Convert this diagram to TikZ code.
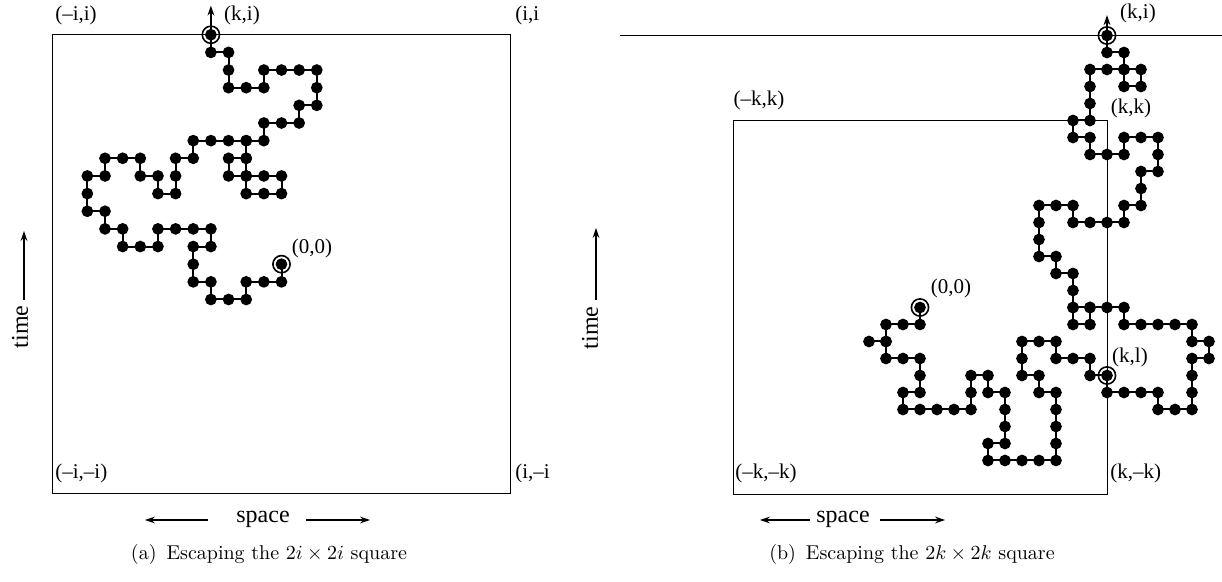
\documentclass[tikz,border=0pt]{standalone}
\usepackage{fontspec}
\newfontfamily\lblfont{Liberation Serif}
\usetikzlibrary{arrows.meta}

\begin{document}
\begin{tikzpicture}[x=0.5pt, y=-0.5pt,
  walk/.style={line width=1pt, mark=*, mark size=2.4pt, mark options={fill=black}},
  ring/.style={circle, draw, line width=0.8pt, minimum size=8.6pt, inner sep=0pt},
  lbl/.style={font=\lblfont\fontsize{10.5}{11}\selectfont, inner sep=0pt},
  axislbl/.style={font=\lblfont\fontsize{12}{13}\selectfont, inner sep=0pt},
  capt/.style={font=\fontsize{10}{12}\selectfont, inner sep=0pt},
  seta/.style={-{Stealth[length=5pt, width=3.4pt]}, line width=0.6pt},
  box/.style={line width=0.5pt}
]
  \useasboundingbox (0,0) rectangle (1222,582);

  % (a) the 2i x 2i square
  \begin{scope}[shift={(281.5,264.2)}, x=8.825pt, y=8.825pt]
    \draw[box] (-13,-13) rectangle (13,13);
    \draw[walk] plot coordinates {(0,0) (0,-1) (-1,-1) (-2,-1) (-2,-2) (-3,-2) (-4,-2) (-4,-1)
      (-5,-1) (-5,0) (-5,1) (-4,1) (-4,2) (-5,2) (-6,2) (-7,2) (-7,1) (-8,1) (-9,1) (-9,2)
      (-10,2) (-10,3) (-11,3) (-11,4) (-11,5) (-10,5) (-10,6) (-9,6) (-8,6) (-8,5) (-7,5)
      (-7,4) (-6,4) (-6,5) (-6,6) (-5,6) (-5,7) (-4,7) (-3,7) (-2,7) (-2,6) (-3,6) (-3,5)
      (-2,5) (-1,5) (0,5) (0,4) (-1,4) (-2,4) (-2,5) (-2,6) (-2,7) (-1,7) (-1,8) (0,8) (1,8)
      (1,9) (2,9) (2,10) (2,11) (1,11) (0,11) (-1,11) (-1,10) (-2,10) (-3,10) (-3,11)
      (-3,12) (-4,12) (-4,13)};
    \node[ring] (oa) at (0,0) {};
    \node[ring] (ea) at (-4,13) {};
    \coordinate (ta) at (-4,14.65);
    \draw[seta] (ea.center) -- (ta);
  \end{scope}

  \node[lbl] (nwa) at (76,15) {(–i,i)};
  \node[lbl] (kia) at (242,15) {(k,i)};
  \node[lbl, anchor=west] (nea) at (515,15) {(i,i};
  \node[lbl, anchor=west] (swa) at (55,473) {(–i,–i)};
  \node[lbl, anchor=west] (sea) at (515,473) {(i,–i};
  \node[lbl] (za) at (312,248) {(0,0)};

  \node[axislbl, rotate=90] (timea) at (20,327) {time};
  \coordinate (tma1) at (24,300);
  \coordinate (tma2) at (24,231);
  \draw[seta] (tma1) -- (tma2);
  \node[axislbl] (spacea) at (263,519) {space};
  \coordinate (spa1) at (208,520);
  \coordinate (spa2) at (145,520);
  \coordinate (spa3) at (306,520);
  \coordinate (spa4) at (370,520);
  \draw[seta] (spa1) -- (spa2);
  \draw[seta] (spa3) -- (spa4);
  \node[capt] (capa) at (269,555) {(a)\enspace Escaping the $2i \times 2i$ square};

  % (b) the 2k x 2k square
  \begin{scope}[shift={(920,307.5)}, x=8.5pt, y=8.5pt]
    \coordinate (lnw) at (-17.65,16);
    \coordinate (lne) at (17.77,16);
    \draw[box] (lnw) -- (lne);
    \draw[box] (-11,-11) rectangle (11,11);
    \draw[walk] plot coordinates {(0,0) (0,-1) (-1,-1) (-2,-1) (-2,-2) (-3,-2) (-2,-2) (-2,-3)
      (-1,-3) (0,-3) (0,-4) (0,-5) (-1,-5) (-1,-6) (0,-6) (1,-6) (2,-6) (3,-6) (3,-5) (3,-4)
      (4,-4) (4,-5) (5,-5) (5,-6) (5,-7) (5,-8) (4,-8) (4,-9) (5,-9) (6,-9) (7,-9) (8,-9)
      (8,-8) (8,-7) (8,-6) (8,-5) (7,-5) (7,-4) (6,-4) (6,-3) (6,-2) (7,-2) (8,-2) (8,-3)
      (9,-3) (10,-3) (10,-4) (11,-4) (11,-5) (12,-5) (13,-5) (14,-5) (14,-6) (15,-6) (16,-6)
      (16,-5) (16,-4) (16,-3) (17,-3) (17,-2) (16,-2) (16,-1) (15,-1) (14,-1) (13,-1) (12,-1)
      (12,0) (11,0) (10,0) (10,-1) (9,-1) (9,0) (10,0) (9,0) (9,1) (9,2) (8,2) (8,3) (7,3)
      (7,4) (7,5) (7,6) (8,6) (9,6) (9,5) (10,5) (11,5) (12,5) (12,6) (13,6) (13,7) (13,8)
      (14,8) (14,9) (14,10) (13,10) (12,10) (12,9) (11,9) (10,9) (10,10) (9,10) (9,11)
      (10,11) (10,12) (10,13) (10,14) (11,14) (12,14) (13,14) (13,13) (12,13) (12,14)
      (12,15) (11,15) (11,16)};
    \node[ring] (ob) at (0,0) {};
    \node[ring] (lb) at (11,-4) {};
    \node[ring] (eb) at (11,16) {};
    \coordinate (tb) at (11,17.2);
    \draw[seta] (eb.center) -- (tb);
  \end{scope}

  \node[lbl] (kib) at (1138,13) {(k,i)};
  \node[lbl] (nwb) at (759,100) {(–k,k)};
  \node[lbl] (neb) at (1131,108) {(k,k)};
  \node[lbl] (zb) at (951,288) {(0,0)};
  \node[lbl] (klb) at (1130,357) {(k,l)};
  \node[lbl, anchor=west] (swb) at (735,473) {(–k,–k)};
  \node[lbl, anchor=west] (seb) at (1110,473) {(k,–k)};

  \node[axislbl, rotate=90] (timeb) at (590,328) {time};
  \coordinate (tmb1) at (596,300);
  \coordinate (tmb2) at (596,228);
  \draw[seta] (tmb1) -- (tmb2);
  \node[axislbl] (spaceb) at (843,519) {space};
  \coordinate (spb1) at (810,520);
  \coordinate (spb2) at (760,520);
  \coordinate (spb3) at (880,520);
  \coordinate (spb4) at (945,520);
  \draw[seta] (spb1) -- (spb2);
  \draw[seta] (spb3) -- (spb4);
  \node[capt] (capb) at (912,555) {(b)\enspace Escaping the $2k \times 2k$ square};
\end{tikzpicture}
\end{document}
